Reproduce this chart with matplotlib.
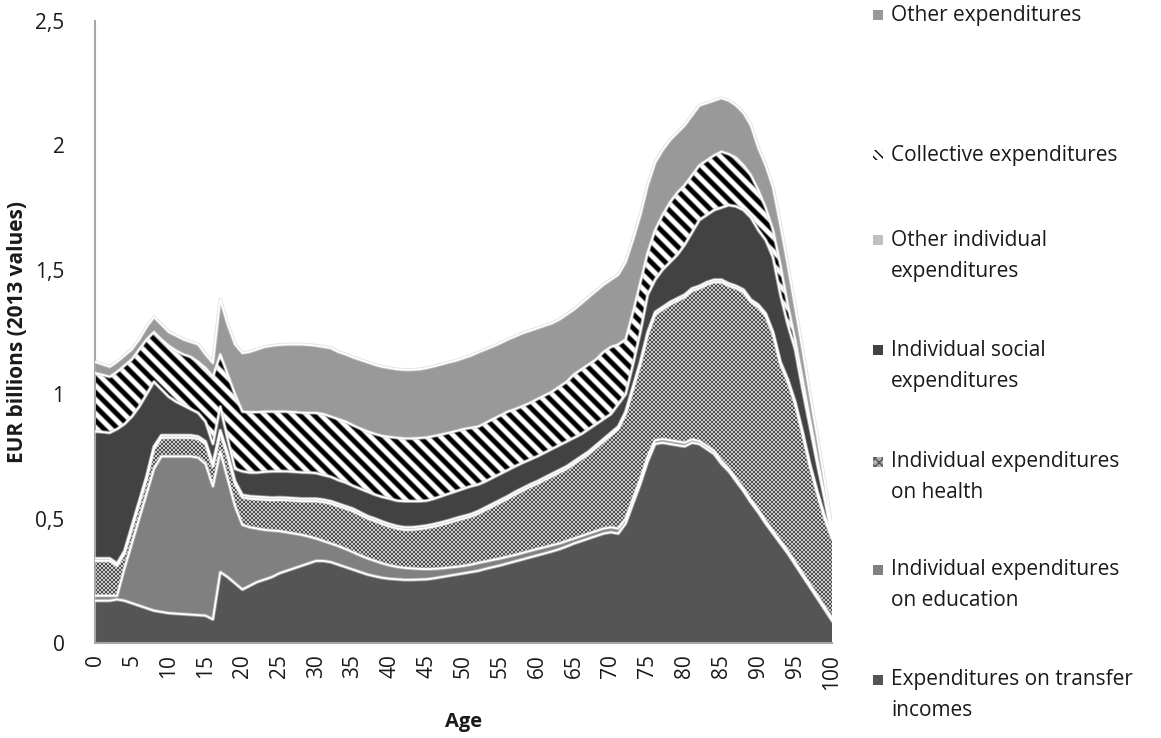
import numpy as np
import matplotlib.pyplot as plt
from matplotlib.patches import Rectangle

plt.rcParams['font.family'] = ['Open Sans', 'DejaVu Sans']

# --- DATA (EUR billions, 2013 values) ---
# upper edge of each stacked band for every age 0..100
ages = np.arange(0, 101)

top_transfer = [
    .17, .17, .17, .175, .17, .16, .15, .14, .13, .125,
    .12, .118, .116, .114, .112, .11, .095, .285, .265, .24,
    .215, .23, .245, .255, .265, .28, .29, .30, .31, .32,
    .33, .33, .325, .315, .305, .295, .285, .275, .268, .262,
    .258, .256, .254, .254, .255, .256, .26, .265, .27, .275,
    .28, .285, .29, .298, .305, .312, .32, .328, .336, .344,
    .352, .36, .368, .377, .388, .40, .41, .42, .43, .44,
    .445, .44, .48, .56, .64, .73, .80, .805, .80, .795,
    .79, .805, .80, .78, .76, .72, .69, .65, .61, .565,
    .525, .48, .44, .40, .36, .315, .27, .225, .18, .135,
    .09]

top_education = [
    .19, .19, .19, .19, .30, .40, .50, .60, .70, .75,
    .75, .75, .75, .75, .745, .72, .63, .77, .66, .55,
    .475, .465, .46, .455, .452, .45, .445, .44, .435, .428,
    .42, .41, .40, .39, .378, .365, .352, .34, .33, .32,
    .312, .306, .302, .30, .298, .297, .298, .30, .303, .306,
    .31, .315, .322, .328, .334, .34, .347, .354, .362, .37,
    .378, .385, .393, .40, .41, .42, .43, .44, .45, .46,
    .465, .46, .50, .58, .66, .75, .815, .82, .815, .81,
    .805, .818, .812, .792, .772, .732, .70, .66, .62, .575,
    .535, .49, .45, .41, .37, .325, .28, .235, .19, .145,
    .10]

top_health = [
    .33, .33, .33, .31, .36, .46, .56, .66, .78, .825,
    .825, .825, .825, .825, .82, .80, .71, .845, .75, .64,
    .585, .58, .578, .576, .574, .575, .574, .572, .57, .57,
    .57, .566, .56, .55, .54, .53, .515, .50, .49, .478,
    .468, .46, .455, .455, .458, .462, .468, .475, .483, .492,
    .50, .508, .52, .535, .55, .565, .58, .597, .612, .627,
    .64, .655, .67, .685, .70, .72, .74, .76, .785, .81,
    .835, .86, .92, 1.02, 1.12, 1.24, 1.32, 1.34, 1.36, 1.375,
    1.39, 1.415, 1.425, 1.44, 1.45, 1.45, 1.435, 1.425, 1.41, 1.37,
    1.35, 1.315, 1.24, 1.12, 1.05, .96, .84, .71, .60, .50,
    .42]

top_other_indiv = [h + .01 for h in top_health]

top_social = [
    .85, .848, .845, .86, .88, .91, .95, 1.0, 1.05, 1.02,
    .99, .97, .955, .94, .925, .89, .80, .95, .82, .70,
    .69, .685, .685, .688, .69, .69, .69, .688, .686, .685,
    .683, .675, .668, .655, .645, .632, .62, .608, .596, .587,
    .58, .572, .57, .57, .57, .572, .58, .59, .60, .61,
    .62, .63, .637, .65, .665, .68, .695, .71, .724, .737,
    .75, .765, .78, .795, .81, .825, .84, .86, .88, .90,
    .92, .96, 1.0, 1.12, 1.25, 1.40, 1.46, 1.50, 1.53, 1.56,
    1.60, 1.65, 1.70, 1.72, 1.74, 1.75, 1.76, 1.755, 1.74, 1.71,
    1.66, 1.62, 1.55, 1.40, 1.28, 1.18, 1.02, .87, .72, .58,
    .43]

top_collective = [
    1.085, 1.078, 1.07, 1.09, 1.115, 1.14, 1.18, 1.22, 1.25, 1.22,
    1.195, 1.175, 1.16, 1.15, 1.13, 1.105, 1.07, 1.16, 1.08, 1.0,
    .93, .928, .928, .93, .93, .93, .93, .928, .926, .925,
    .925, .92, .91, .90, .89, .875, .862, .85, .84, .832,
    .828, .825, .822, .822, .824, .826, .832, .838, .845, .852,
    .86, .865, .87, .885, .90, .915, .93, .94, .952, .965,
    .98, .995, 1.01, 1.03, 1.05, 1.08, 1.10, 1.12, 1.14, 1.17,
    1.19, 1.20, 1.22, 1.33, 1.45, 1.57, 1.66, 1.72, 1.77, 1.81,
    1.84, 1.88, 1.92, 1.94, 1.96, 1.975, 1.965, 1.95, 1.92, 1.88,
    1.82, 1.75, 1.66, 1.52, 1.36, 1.22, 1.06, .90, .74, .59,
    .44]

top_other = [
    1.13, 1.12, 1.11, 1.13, 1.155, 1.18, 1.22, 1.27, 1.31, 1.28,
    1.25, 1.235, 1.22, 1.21, 1.20, 1.16, 1.125, 1.38, 1.28, 1.20,
    1.165, 1.17, 1.18, 1.19, 1.195, 1.198, 1.20, 1.20, 1.20, 1.198,
    1.195, 1.19, 1.185, 1.17, 1.16, 1.148, 1.138, 1.128, 1.118, 1.11,
    1.105, 1.10, 1.098, 1.098, 1.10, 1.105, 1.112, 1.12, 1.128, 1.135,
    1.145, 1.155, 1.168, 1.18, 1.192, 1.205, 1.22, 1.232, 1.245, 1.255,
    1.265, 1.275, 1.285, 1.30, 1.32, 1.34, 1.365, 1.39, 1.415, 1.44,
    1.46, 1.48, 1.53, 1.62, 1.72, 1.84, 1.93, 1.98, 2.02, 2.05,
    2.08, 2.12, 2.16, 2.17, 2.18, 2.19, 2.18, 2.16, 2.13, 2.08,
    1.99, 1.92, 1.83, 1.68, 1.52, 1.35, 1.18, 1.00, .83, .65,
    .46]

y_ticks = [0, 0.5, 1, 1.5, 2, 2.5]
y_tick_labels = ['0', '0,5', '1', '1,5', '2', '2,5']
x_ticks = list(range(0, 101, 5))

legend_entries = [
    ('Other expenditures', 'other'),
    ('Collective expenditures', 'collective'),
    ('Other individual\nexpenditures', 'other_indiv'),
    ('Individual social\nexpenditures', 'social'),
    ('Individual expenditures\non health', 'health'),
    ('Individual expenditures\non education', 'education'),
    ('Expenditures on transfer\nincomes', 'transfer'),
]

# --- STYLE ---
COL = {'transfer': '#555555', 'education': '#808080', 'other_indiv': '#c0c0c0',
       'social': '#424242', 'other': '#999999'}
W_PX, H_PX = 1161, 738
AX_L, AX_R, AX_T, AX_B = 95, 832, 21, 643   # plot area in pixels

fig = plt.figure(figsize=(W_PX / 100, H_PX / 100), dpi=100)
ax = fig.add_axes([AX_L / W_PX, 1 - AX_B / H_PX,
                   (AX_R - AX_L) / W_PX, (AX_B - AX_T) / H_PX])

bands = [
    (np.zeros(len(ages)), top_transfer, 'transfer'),
    (top_transfer, top_education, 'education'),
    (top_education, top_health, 'health'),
    (top_health, top_other_indiv, 'other_indiv'),
    (top_other_indiv, top_social, 'social'),
    (top_social, top_collective, 'collective'),
    (top_collective, top_other, 'other'),
]

# pattern images (pixel-sized) for the textured bands
pw, ph = AX_R - AX_L, AX_B - AX_T
yy, xx = np.mgrid[0:ph, 0:pw]
checker = np.where(((xx // 2) + (yy // 2)) % 2 == 0, 0.30, 0.80)
period = 14.0
stripes = 0.5 + 0.5 * np.cos(2 * np.pi * (xx - yy) / period)
stripes = np.clip(1.8 * stripes - 0.4, 0, 1)

for lo, hi, key in bands:
    if key in ('health', 'collective'):
        poly = ax.fill_between(ages, lo, hi, facecolor='white', lw=0, zorder=2)
        img = checker if key == 'health' else stripes
        im = ax.imshow(img, cmap='gray', vmin=0, vmax=1, extent=(0, 100, 0, 2.5),
                       aspect='auto', interpolation='nearest', zorder=2)
        im.set_clip_path(poly.get_paths()[0], transform=ax.transData)
    else:
        ax.fill_between(ages, lo, hi, facecolor=COL[key], lw=0, zorder=2)

# white outlines between the bands
for top in [top_transfer, top_education, top_health, top_other_indiv,
            top_social, top_collective, top_other]:
    ax.plot(ages, top, color='#cfcfcf', lw=2.6, alpha=0.6, zorder=3)
    ax.plot(ages, top, color='white', lw=1.3, zorder=4)

ax.set_xlim(0, 100)
ax.set_ylim(0, 2.5)
ax.set_xticks(x_ticks)
ax.set_xticklabels([str(a) for a in x_ticks], rotation=90)
ax.set_yticks(y_ticks)
ax.set_yticklabels(y_tick_labels)
ax.tick_params(axis='x', length=0, pad=8, labelsize=15, colors='#1a1a1a')
ax.tick_params(axis='y', length=0, pad=22, labelsize=15, colors='#1a1a1a')
for s in ['top', 'right']:
    ax.spines[s].set_visible(False)
ax.spines['left'].set_color('#a6a6a6')
ax.spines['left'].set_linewidth(1.5)
ax.spines['bottom'].set_color('#a6a6a6')
ax.spines['bottom'].set_linewidth(1.5)

fig.text((AX_L + AX_R) / 2 / W_PX, 1 - 722 / H_PX, 'Age', ha='center', va='center',
         fontsize=14.5, fontweight='bold', color='#1a1a1a')
fig.text(18 / W_PX, 1 - 332 / H_PX, 'EUR billions (2013 values)', rotation=90,
         ha='center', va='center', fontsize=15, fontweight='bold', color='#1a1a1a')

# --- LEGEND (drawn by hand to follow the original layout) ---
leg_y = [15, 155, 240, 350, 462, 570, 680]
mk = 10
for (label, key), y in zip(legend_entries, leg_y):
    x0, y0 = 873 / W_PX, 1 - (y + mk / 2) / H_PX
    if key == 'collective':
        r = Rectangle((x0, y0), mk / W_PX, mk / H_PX, transform=fig.transFigure,
                      facecolor='white', edgecolor='black', hatch='\\\\\\\\', lw=0)
    elif key == 'health':
        r = Rectangle((x0, y0), mk / W_PX, mk / H_PX, transform=fig.transFigure,
                      facecolor='#b0b0b0', edgecolor='#555555', hatch='xxxx', lw=0)
    else:
        r = Rectangle((x0, y0), mk / W_PX, mk / H_PX, transform=fig.transFigure,
                      facecolor=COL[key], lw=0)
    fig.add_artist(r)
    for i, line in enumerate(label.split('\n')):
        fig.text(891 / W_PX, 1 - (y + i * 31) / H_PX, line, ha='left', va='center',
                 fontsize=15, color='#1a1a1a')

fig.savefig('out.png', dpi=100)
